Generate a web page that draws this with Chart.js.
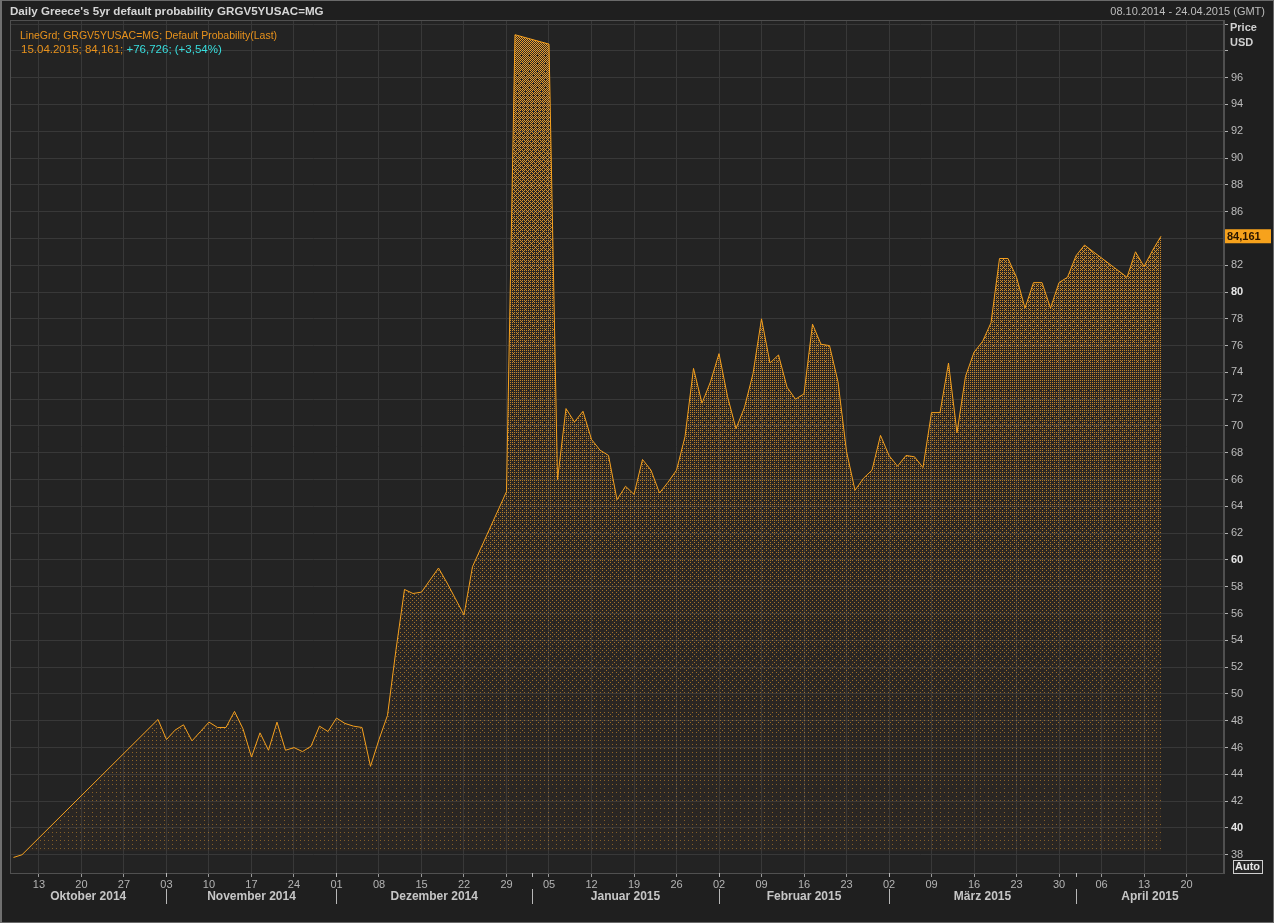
<!DOCTYPE html>
<html>
<head>
<meta charset="utf-8">
<script src="https://cdn.jsdelivr.net/npm/chart.js@4.4.1/dist/chart.umd.min.js"></script>
<style>
    html, body { margin: 0; padding: 0; background: #1f1f1f; }
    canvas { display: block; }
</style>
</head>
<body>
<canvas id="cdsChart" width="1274" height="923"></canvas>
<script>
// trading days with a quote
const dates = [
    "2014-10-08", "2014-10-09", "2014-10-31",
    "2014-11-03", "2014-11-04", "2014-11-05", "2014-11-06", "2014-11-07",
    "2014-11-10", "2014-11-11", "2014-11-12", "2014-11-13", "2014-11-14",
    "2014-11-17", "2014-11-18", "2014-11-19", "2014-11-20", "2014-11-21",
    "2014-11-24", "2014-11-25", "2014-11-26", "2014-11-27", "2014-11-28",
    "2014-12-01", "2014-12-02", "2014-12-03", "2014-12-04", "2014-12-05",
    "2014-12-08", "2014-12-09", "2014-12-10", "2014-12-11", "2014-12-12",
    "2014-12-15", "2014-12-16", "2014-12-17", "2014-12-18", "2014-12-19",
    "2014-12-22", "2014-12-23", "2014-12-29", "2014-12-30",
    "2015-01-05", "2015-01-06", "2015-01-07", "2015-01-08", "2015-01-09",
    "2015-01-12", "2015-01-13", "2015-01-14", "2015-01-15", "2015-01-16",
    "2015-01-19", "2015-01-20", "2015-01-21", "2015-01-22", "2015-01-23",
    "2015-01-26", "2015-01-27", "2015-01-28", "2015-01-29", "2015-01-30",
    "2015-02-02", "2015-02-03", "2015-02-04", "2015-02-05", "2015-02-06",
    "2015-02-09", "2015-02-10", "2015-02-11", "2015-02-12", "2015-02-13",
    "2015-02-16", "2015-02-17", "2015-02-18", "2015-02-19", "2015-02-20",
    "2015-02-23", "2015-02-24", "2015-02-25", "2015-02-26", "2015-02-27",
    "2015-03-02", "2015-03-03", "2015-03-04", "2015-03-05", "2015-03-06",
    "2015-03-09", "2015-03-10", "2015-03-11", "2015-03-12", "2015-03-13",
    "2015-03-16", "2015-03-17", "2015-03-18", "2015-03-19", "2015-03-20",
    "2015-03-23", "2015-03-24", "2015-03-25", "2015-03-26", "2015-03-27",
    "2015-03-30", "2015-03-31", "2015-04-01", "2015-04-02",
    "2015-04-09", "2015-04-10", "2015-04-13", "2015-04-14", "2015-04-15",
];

const probability = [
    37.8, 38.0, 48.1,
    46.6, 47.3, 47.7, 46.5, 47.2,
    47.9, 47.5, 47.5, 48.7, 47.4,
    45.3, 47.1, 45.8, 47.9, 45.8,
    46.0, 45.7, 46.1, 47.6, 47.2,
    48.2, 47.8, 47.6, 47.5, 44.6,
    46.6, 48.4, 53.3, 57.8, 57.5,
    57.6, 58.5, 59.4, 58.3, 57.1,
    55.9, 59.5, 65.1, 99.2,
    98.5, 66.0, 71.3, 70.3, 71.1,
    69.0, 68.2, 67.8, 64.5, 65.5,
    64.9, 67.5, 66.7, 65.0, 65.8,
    66.7, 69.2, 74.3, 71.7, 73.3,
    75.4, 72.2, 69.8, 71.4, 73.9,
    78.0, 74.7, 75.3, 72.9, 72.0,
    72.4, 77.6, 76.1, 76.0, 73.3,
    68.1, 65.2, 66.1, 66.7, 69.3,
    67.8, 67.0, 67.8, 67.7, 66.9,
    71.0, 71.0, 74.7, 69.5, 73.7,
    75.5, 76.3, 77.7, 82.5, 82.5,
    81.1, 78.8, 80.7, 80.7, 78.8,
    80.7, 81.1, 82.7, 83.5,
    81.1, 83.0, 81.9, 83.1, 84.161,
];

// weekly ticks (Mondays)
const tickDates = [
    "2014-10-13", "2014-10-20", "2014-10-27", "2014-11-03", "2014-11-10",
    "2014-11-17", "2014-11-24", "2014-12-01", "2014-12-08", "2014-12-15",
    "2014-12-22", "2014-12-29", "2015-01-05", "2015-01-12", "2015-01-19",
    "2015-01-26", "2015-02-02", "2015-02-09", "2015-02-16", "2015-02-23",
    "2015-03-02", "2015-03-09", "2015-03-16", "2015-03-23", "2015-03-30",
    "2015-04-06", "2015-04-13", "2015-04-20",
];

const monthLabels = ["Oktober 2014", "November 2014", "Dezember 2014", "Januar 2015", "Februar 2015", "März 2015", "April 2015"];
const monthStarts = ["2014-11-03", "2014-12-01", "2015-01-01", "2015-02-02", "2015-03-02", "2015-04-01"];

const rangeStart = "2014-10-08";
const rangeEnd = "2015-04-24";

const FONT = '"Liberation Sans", Arial, sans-serif';
const ORANGE = "#f5a01e";

// x axis runs on business days, like the terminal chart
function bizIndex(s) {
    const p = (str) => {
        const [y, m, d] = str.split("-").map(Number);
        return Date.UTC(y, m - 1, d);
    };
    const t = p(s);
    let n = 0;
    for (let d = p(rangeStart); d < t; d += 86400000) {
        const wd = new Date(d).getUTCDay();
        if (wd !== 0 && wd !== 6) n++;
    }
    return n;
}

const points = dates.map((d, i) => ({ x: bizIndex(d), y: probability[i] }));
const tickIdx = tickDates.map(bizIndex);
const tickText = {};
tickDates.forEach((d, i) => { tickText[tickIdx[i]] = d.slice(8); });
const lastIdx = bizIndex(rangeEnd);

// dotted fill, denser and brighter towards the top (ordered dither)
function bayer(x, y) {
    let v = 0;
    for (let bit = 0; bit < 3; bit++) {
        const a = ((x >> bit) & 1) ^ ((y >> bit) & 1);
        const b = (y >> bit) & 1;
        v |= (a << (2 * (2 - bit) + 1)) | (b << (2 * (2 - bit)));
    }
    return v;
}

function makeFill(w, h, top, bottom) {
    const off = document.createElement("canvas");
    off.width = w;
    off.height = h;
    const c = off.getContext("2d");
    const img = c.createImageData(w, h);
    for (let y = 0; y < h; y++) {
        const inside = y < bottom - 22;
        const t = Math.max(0, Math.min(1, (bottom - y) / (bottom - top)));
        const dens = inside ? 0.03 + 0.47 * Math.pow(t, 1.5) : 0;
        const alpha = Math.round(255 * (0.45 + 0.55 * t));
        for (let x = 0; x < w; x++) {
            const k = (y * w + x) * 4;
            if (bayer(x & 7, y & 7) / 64 < dens) {
                img.data[k] = 238;
                img.data[k + 1] = 160;
                img.data[k + 2] = 46;
                img.data[k + 3] = alpha;
            } else {
                img.data[k] = 140;
                img.data[k + 1] = 85;
                img.data[k + 2] = 25;
                img.data[k + 3] = inside ? 16 : 0;
            }
        }
    }
    c.putImageData(img, 0, 0);
    return c.createPattern(off, "no-repeat");
}

const canvas = document.getElementById("cdsChart");
const ctx = canvas.getContext("2d");
const fillPattern = makeFill(1274, 923, 30, 873);

const decor = {
    id: "decor",
    beforeDraw(chart) {
        const { ctx: g, chartArea: a } = chart;
        g.save();
        g.fillStyle = "#1f1f1f";
        g.fillRect(0, 0, chart.width, chart.height);
        g.fillStyle = "#232323";
        g.fillRect(a.left, a.top, a.right - a.left, a.bottom - a.top);
        g.restore();
    },
    afterDraw(chart) {
        const { ctx: g, chartArea: a } = chart;
        const xs = chart.scales.x;
        const ys = chart.scales.y;
        g.save();

        // frame
        g.strokeStyle = "#505050";
        g.lineWidth = 1;
        g.strokeRect(a.left + 0.5, a.top + 0.5, a.right - a.left - 1, a.bottom - a.top);
        g.strokeStyle = "#6a6a6a";
        g.strokeRect(0.5, 0.5, chart.width - 1, chart.height - 1);
        g.fillStyle = "#707070";
        g.fillRect(0, 0, 2, chart.height);

        // header
        g.textBaseline = "middle";
        g.fillStyle = "#d6d6d6";
        g.font = "bold 11.6px " + FONT;
        g.textAlign = "left";
        g.fillText("Daily Greece's 5yr default probability GRGV5YUSAC=MG", 10, 12);
        g.font = "11px " + FONT;
        g.fillStyle = "#bdbdbd";
        g.textAlign = "right";
        g.fillText("08.10.2014 - 24.04.2015 (GMT)", 1265, 12);

        // legend text
        g.textAlign = "left";
        g.font = "10.5px " + FONT;
        g.fillStyle = "#e8921c";
        g.fillText("LineGrd; GRGV5YUSAC=MG; Default Probability(Last)", 20, 36);
        g.font = "11.5px " + FONT;
        const part1 = "15.04.2015; 84,161; ";
        g.fillText(part1, 21, 50);
        g.fillStyle = "#38dede";
        g.fillText("+76,726; (+3,54%)", 21 + g.measureText(part1).width, 50);

        // price / usd
        g.font = "bold 11px " + FONT;
        g.fillStyle = "#d0d0d0";
        g.fillText("Price", 1230, 28);
        g.fillText("USD", 1230, 43);

        // last value badge
        const last = probability[probability.length - 1];
        const by = ys.getPixelForValue(last);
        g.fillStyle = "#f7a21c";
        g.fillRect(a.right + 1, by - 7, 46, 14);
        g.fillStyle = "#2a1500";
        g.font = "bold 11px " + FONT;
        g.fillText(String(last).replace(".", ","), a.right + 3, by + 0.5);

        // Auto box
        g.fillStyle = "#262626";
        g.fillRect(1233, 860, 29, 13);
        g.strokeStyle = "#cfcfcf";
        g.strokeRect(1233.5, 860.5, 29, 13);
        g.fillStyle = "#e6e6e6";
        g.fillText("Auto", 1235, 867);

        // month separators and labels
        const bounds = [a.left].concat(monthStarts.map((d) => xs.getPixelForValue(bizIndex(d))), [a.right]);
        g.strokeStyle = "#b8b8b8";
        g.beginPath();
        monthStarts.forEach((d) => {
            const px = Math.round(xs.getPixelForValue(bizIndex(d))) + 0.5;
            g.moveTo(px, 889);
            g.lineTo(px, 904);
            g.moveTo(px, a.bottom);
            g.lineTo(px, a.bottom + 4);
        });
        g.stroke();
        g.font = "bold 12px " + FONT;
        g.fillStyle = "#c6c6c6";
        g.textAlign = "center";
        monthLabels.forEach((m, i) => {
            g.fillText(m, (bounds[i] + bounds[i + 1]) / 2, 897);
        });
        g.restore();
    },
};

new Chart(ctx, {
    type: "line",
    data: {
        datasets: [
            {
                data: points,
                borderColor: ORANGE,
                borderWidth: 1,
                backgroundColor: fillPattern,
                fill: "start",
                pointRadius: 0,
                tension: 0,
                spanGaps: true,
            },
        ],
    },
    options: {
        responsive: false,
        animation: false,
        events: [],
        layout: {
            padding: { left: 10, top: 20, right: 0, bottom: 0 },
        },
        plugins: {
            legend: { display: false },
            tooltip: { enabled: false },
        },
        scales: {
            x: {
                type: "linear",
                min: -0.41,
                max: lastIdx + 0.41,
                afterBuildTicks: (s) => {
                    s.ticks = tickIdx.map((v) => ({ value: v }));
                },
                afterFit: (s) => {
                    s.height = 50;
                },
                ticks: {
                    autoSkip: false,
                    maxRotation: 0,
                    padding: 1,
                    color: "#b4b4b4",
                    font: { family: FONT, size: 11 },
                    callback: (v) => tickText[v] || "",
                },
                grid: {
                    color: "#383838",
                    tickColor: "#9a9a9a",
                    tickLength: 4,
                },
                border: { color: "#505050" },
            },
            y: {
                position: "right",
                min: 36.64,
                max: 100.3,
                afterFit: (s) => {
                    s.width = 50;
                },
                ticks: {
                    stepSize: 2,
                    includeBounds: false,
                    padding: 3,
                    color: (c) => (c.tick && c.tick.value % 20 === 0 ? "#e4e4e4" : "#bcbcbc"),
                    font: (c) => ({
                        family: FONT,
                        size: 11,
                        weight: c.tick && c.tick.value % 20 === 0 ? "bold" : "normal",
                    }),
                    callback: (v) => (v > 96 ? "" : v),
                },
                grid: {
                    color: "#383838",
                    tickColor: "#b0b0b0",
                    tickLength: 4,
                },
                border: { color: "#505050" },
            },
        },
    },
    plugins: [decor],
});
</script>
</body>
</html>
